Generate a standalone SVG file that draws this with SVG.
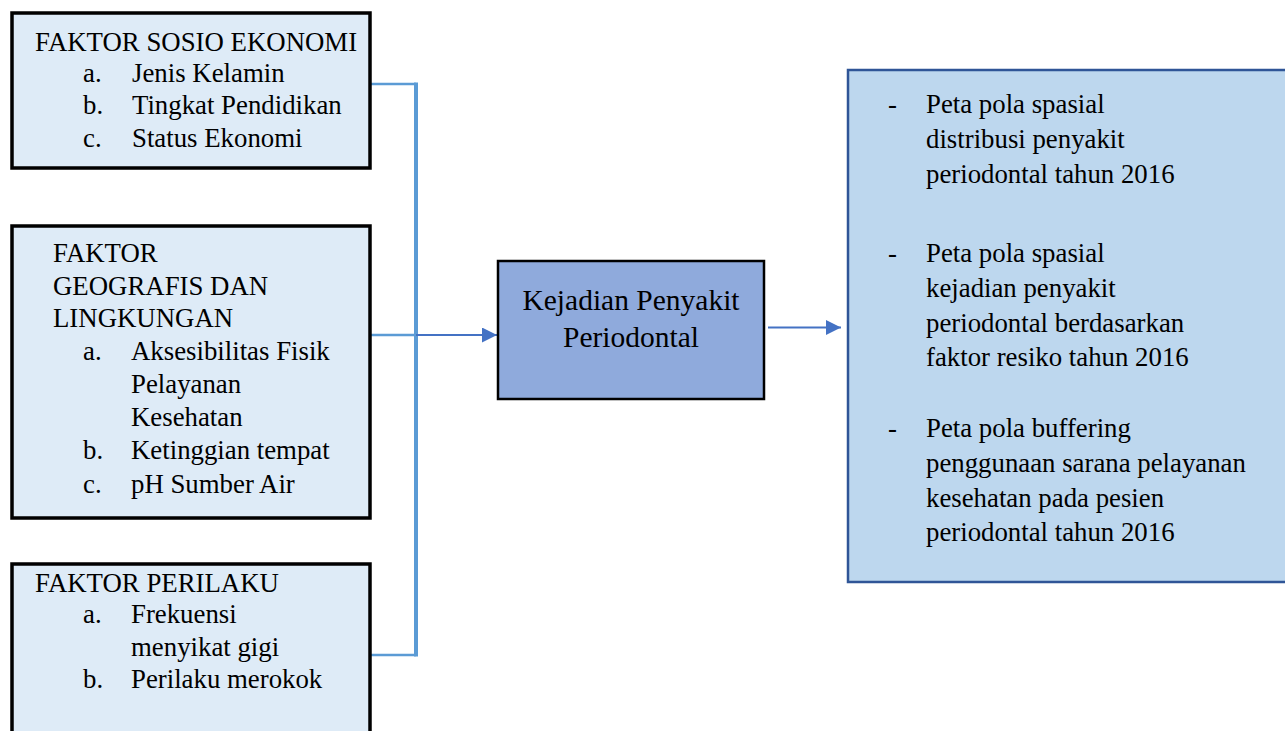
<svg xmlns="http://www.w3.org/2000/svg" width="1285" height="731" viewBox="0 0 1285 731">
<style>
.t{font-family:"Liberation Serif","Times New Roman",serif;font-size:26.8px;fill:#000}
.c{font-family:"Liberation Serif","Times New Roman",serif;font-size:29.5px;fill:#000;text-anchor:middle}
.lb{fill:#deebf7;stroke:#000;stroke-width:3.5}
.ctr{fill:#8faadc;stroke:#000;stroke-width:2.5}
.out{fill:#bdd7ee;stroke:#2f5597;stroke-width:2.5}
.conn{stroke:#5b9bd5;fill:none}
.arr{stroke:#4472c4;stroke-width:1.8;fill:none}
</style>
<defs>
<marker id="ah" markerWidth="16" markerHeight="16" refX="15" refY="7.5" orient="auto" markerUnits="userSpaceOnUse">
<path d="M0,0 L15,7.5 L0,15 Z" fill="#4472c4"/>
</marker>
</defs>
<g id="connectors">
<path class="conn" stroke-width="2.5" d="M371,84 H416 M371,655 H416 M371,335 H416"/>
<path class="conn" stroke-width="4" d="M416,82.5 V656.5"/>
<path class="arr" d="M416,335 H497" marker-end="url(#ah)"/>
<path class="arr" d="M768,327.5 H841" marker-end="url(#ah)"/>
</g>
<g id="sosio">
<rect class="lb" x="12" y="13" width="358" height="155"/>
<text class="t" x="35" y="51">FAKTOR SOSIO EKONOMI</text>
<text class="t" x="83" y="82">a.</text><text class="t" x="132" y="82">Jenis Kelamin</text>
<text class="t" x="83" y="114">b.</text><text class="t" x="132" y="114">Tingkat Pendidikan</text>
<text class="t" x="83" y="147">c.</text><text class="t" x="132" y="147">Status Ekonomi</text>
</g>
<g id="geografis">
<rect class="lb" x="12" y="226" width="358" height="292"/>
<text class="t" x="53" y="262">FAKTOR</text>
<text class="t" x="53" y="295">GEOGRAFIS DAN</text>
<text class="t" x="53" y="327">LINGKUNGAN</text>
<text class="t" x="83" y="360">a.</text><text class="t" x="131" y="360">Aksesibilitas Fisik</text>
<text class="t" x="131" y="393">Pelayanan</text>
<text class="t" x="131" y="426">Kesehatan</text>
<text class="t" x="83" y="459">b.</text><text class="t" x="131" y="459">Ketinggian tempat</text>
<text class="t" x="83" y="493">c.</text><text class="t" x="131" y="493">pH Sumber Air</text>
</g>
<g id="perilaku">
<rect class="lb" x="12" y="564" width="358" height="180"/>
<text class="t" x="35" y="592">FAKTOR PERILAKU</text>
<text class="t" x="83" y="623">a.</text><text class="t" x="131" y="623">Frekuensi</text>
<text class="t" x="131" y="656">menyikat gigi</text>
<text class="t" x="83" y="688">b.</text><text class="t" x="131" y="688">Perilaku merokok</text>
</g>
<g id="kejadian">
<rect class="ctr" x="498" y="261" width="266" height="138"/>
<text class="c" x="631" y="310">Kejadian Penyakit</text>
<text class="c" x="631" y="347">Periodontal</text>
</g>
<g id="output">
<rect class="out" x="848" y="70" width="440" height="512"/>
<text class="t" x="888" y="113">-</text>
<text class="t" x="926" y="113">Peta pola spasial</text>
<text class="t" x="926" y="148">distribusi penyakit</text>
<text class="t" x="926" y="183">periodontal tahun 2016</text>
<text class="t" x="888" y="262">-</text>
<text class="t" x="926" y="262">Peta pola spasial</text>
<text class="t" x="926" y="297">kejadian penyakit</text>
<text class="t" x="926" y="332">periodontal berdasarkan</text>
<text class="t" x="926" y="366">faktor resiko tahun 2016</text>
<text class="t" x="888" y="437">-</text>
<text class="t" x="926" y="437">Peta pola buffering</text>
<text class="t" x="926" y="472">penggunaan sarana pelayanan</text>
<text class="t" x="926" y="507">kesehatan pada pesien</text>
<text class="t" x="926" y="541">periodontal tahun 2016</text>
</g>
</svg>
